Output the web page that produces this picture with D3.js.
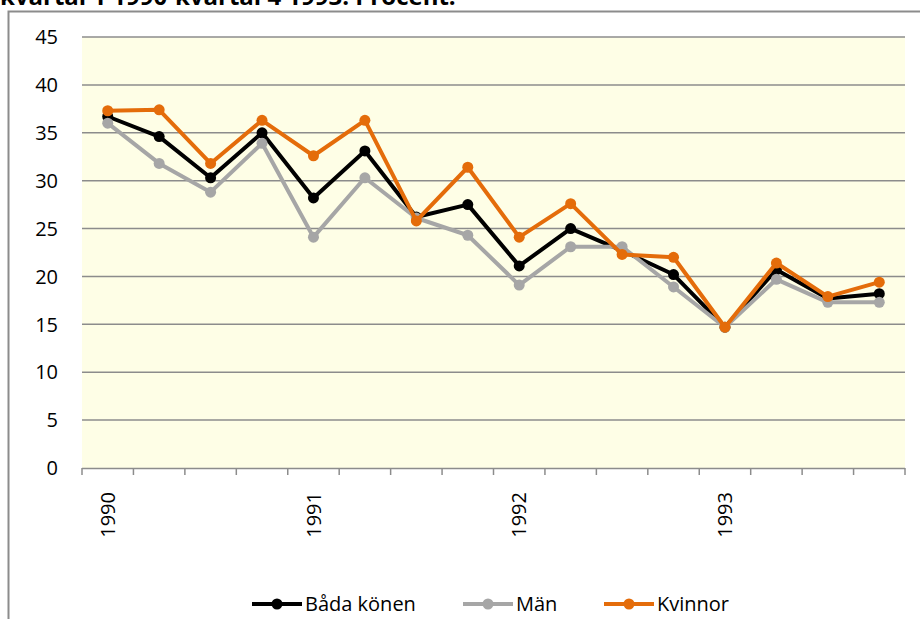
<!DOCTYPE html>
<html>
<head>
<meta charset="utf-8">
<script src="https://cdn.jsdelivr.net/npm/d3@7"></script>
<style>
  body { margin: 0; background: #fff; }
  text { font-family: "Open Sans", "Liberation Sans", Arial, sans-serif; }
</style>
</head>
<body>
<div id="chart"></div>
<script>
// quarters 1990 Q1 - 1993 Q4
var quarters = ['1990', '1990-2', '1990-3', '1990-4', '1991', '1991-2', '1991-3', '1991-4',
  '1992', '1992-2', '1992-3', '1992-4', '1993', '1993-2', '1993-3', '1993-4'];
var yearLabels = ['1990', '1991', '1992', '1993'];
var yTicks = [0, 5, 10, 15, 20, 25, 30, 35, 40, 45];

var badaKonen = [36.7, 34.6, 30.3, 35.0, 28.2, 33.1, 26.2, 27.5, 21.1, 25.0, 22.7, 20.2, 14.7, 20.7, 17.7, 18.2];
var man = [36.0, 31.8, 28.8, 33.9, 24.1, 30.3, 26.1, 24.3, 19.1, 23.1, 23.1, 18.9, 14.7, 19.7, 17.3, 17.3];
var kvinnor = [37.3, 37.4, 31.8, 36.3, 32.6, 36.3, 25.8, 31.4, 24.1, 27.6, 22.3, 22.0, 14.7, 21.4, 17.9, 19.4];

var seriesNames = ['Båda könen', 'Män', 'Kvinnor'];
var seriesColors = ['#000000', '#a6a6a6', '#e46c0a'];
var seriesData = [badaKonen, man, kvinnor];

var svgWidth = 920;
var svgHeight = 619;

var margin = { top: 37, left: 82, right: 15, bottom: 151 };
var width = svgWidth - margin.left - margin.right;
var height = svgHeight - margin.top - margin.bottom;

var svg = d3.select('#chart')
  .append('svg')
  .attr('width', svgWidth)
  .attr('height', svgHeight);

// title (its top is cut off in the source picture)
svg.append('text')
  .attr('x', 0)
  .attr('y', 5)
  .attr('font-size', 24)
  .attr('font-weight', 'bold')
  .text('kvartal 1 1990-kvartal 4 1993. Procent.');

// outer chart frame
svg.append('path')
  .attr('d', 'M8.5,' + svgHeight + 'V11.5H' + svgWidth)
  .attr('fill', 'none')
  .attr('stroke', '#8c8c8c')
  .attr('stroke-width', 2);

var chartGroup = svg.append('g')
  .attr('transform', `translate(${margin.left}, ${margin.top})`);

var xScale = d3.scaleBand().domain(quarters).range([0, width]);
var yScale = d3.scaleLinear().domain([0, 45]).range([height, 0]);

// plot background
chartGroup.append('rect')
  .attr('width', width)
  .attr('height', height)
  .attr('fill', '#fefee6');

// gridlines
chartGroup.selectAll('.grid')
  .data(yTicks.slice(1))
  .enter()
  .append('line')
  .attr('x1', 0)
  .attr('x2', width)
  .attr('y1', (d) => yScale(d))
  .attr('y2', (d) => yScale(d))
  .attr('stroke', '#8c8c8c')
  .attr('stroke-width', 1.5);

// y axis labels
chartGroup.selectAll('.ylab')
  .data(yTicks)
  .enter()
  .append('text')
  .attr('x', -24)
  .attr('y', (d) => yScale(d))
  .attr('dy', '0.36em')
  .attr('text-anchor', 'end')
  .attr('font-size', 20)
  .text((d) => d);

// x axis line and ticks at category boundaries
chartGroup.append('line')
  .attr('x1', 0)
  .attr('x2', width)
  .attr('y1', height + 0.5)
  .attr('y2', height + 0.5)
  .attr('stroke', '#8c8c8c')
  .attr('stroke-width', 1.5);

var boundaries = quarters.map((q) => xScale(q)).concat([width]);
chartGroup.selectAll('.xtick')
  .data(boundaries)
  .enter()
  .append('line')
  .attr('x1', (d) => d)
  .attr('x2', (d) => d)
  .attr('y1', height)
  .attr('y2', height + 7)
  .attr('stroke', '#8c8c8c')
  .attr('stroke-width', 1.5);

// year labels, rotated
chartGroup.selectAll('.xlab')
  .data(yearLabels)
  .enter()
  .append('text')
  .attr('transform', (d) => `translate(${xScale(d) + xScale.bandwidth() / 2}, ${height + 24}) rotate(-90)`)
  .attr('dy', '0.36em')
  .attr('text-anchor', 'end')
  .attr('font-size', 20)
  .text((d) => d);

// lines + markers
var line = d3.line()
  .x((d, i) => xScale(quarters[i]) + xScale.bandwidth() / 2)
  .y((d) => yScale(d));

seriesData.forEach(function (values, s) {
  chartGroup.append('path')
    .datum(values)
    .attr('d', line)
    .attr('fill', 'none')
    .attr('stroke', seriesColors[s])
    .attr('stroke-width', 4)
    .attr('stroke-linejoin', 'round');

  chartGroup.selectAll('.dot' + s)
    .data(values)
    .enter()
    .append('circle')
    .attr('cx', (d, i) => xScale(quarters[i]) + xScale.bandwidth() / 2)
    .attr('cy', (d) => yScale(d))
    .attr('r', 5.5)
    .attr('fill', seriesColors[s]);
});

// legend
var legendX = [252, 463, 604];
var legend = svg.append('g').attr('transform', 'translate(0, 604)');
seriesNames.forEach(function (name, s) {
  var g = legend.append('g').attr('transform', `translate(${legendX[s]}, 0)`);
  g.append('line')
    .attr('x1', 0)
    .attr('x2', 50)
    .attr('stroke', seriesColors[s])
    .attr('stroke-width', 4);
  g.append('circle')
    .attr('cx', 25)
    .attr('r', 5.5)
    .attr('fill', seriesColors[s]);
  g.append('text')
    .attr('x', 53)
    .attr('dy', '0.36em')
    .attr('font-size', 20)
    .text(name);
});
</script>
</body>
</html>
